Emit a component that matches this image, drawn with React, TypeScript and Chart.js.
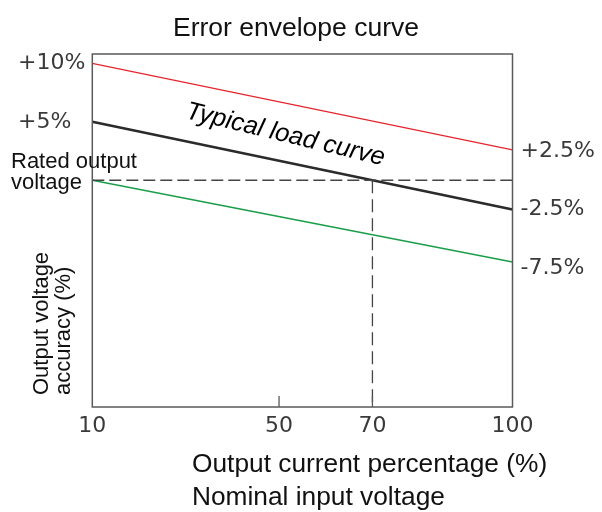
import React, { useEffect, useRef } from 'react';
import { Chart, registerables } from 'chart.js';

Chart.register(...registerables);

// ---- data ----
const currentPct = [10, 100];
const upperLimit = [10, 2.6];
const typicalLoad = [5, -2.5];
const lowerLimit = [0, -7];
const ratedLevel = 0;
const crossoverCurrent = 70;
const xRange = [10, 100];
const yRange = [-19.4, 10.8];
const xTickValues = [10, 50, 70, 100];
const leftTickValues = [10, 5];
const leftTickLabels = ['+10%', '+5%'];
const rightTickValues = [2.5, -2.5, -7.5];
const rightTickLabels = ['+2.5%', '-2.5%', '-7.5%'];
const curveLabel = 'Typical load curve';
const curveLabelAt = { x: 51.0, y: 3.3 };

const ARIAL = '"Liberation Sans", Arial, sans-serif';
const DEJAVU = '"DejaVu Sans", sans-serif';
const TICK_COLOR = '#3a3a3a';

const annotations = {
  id: 'annotations',
  afterDatasetsDraw(chart: any) {
    const { ctx, chartArea: a, scales } = chart;
    ctx.save();
    // frame
    ctx.strokeStyle = '#5a5a5a';
    ctx.lineWidth = 1.5;
    ctx.setLineDash([]);
    ctx.strokeRect(a.left, a.top, a.right - a.left, a.bottom - a.top);
    // inward tick marks
    ctx.lineWidth = 1.3;
    xTickValues.slice(1, -1).forEach((v) => {
      const px = scales.x.getPixelForValue(v);
      ctx.beginPath();
      ctx.moveTo(px, a.bottom);
      ctx.lineTo(px, a.bottom - 11);
      ctx.stroke();
    });

    ctx.fillStyle = '#111';
    // title
    ctx.font = `26.5px ${ARIAL}`;
    ctx.textAlign = 'center';
    ctx.textBaseline = 'alphabetic';
    ctx.fillText('Error envelope curve', 296, 36);

    // x title
    ctx.textAlign = 'left';
    ctx.font = `26.3px ${ARIAL}`;
    ctx.fillText('Output current percentage (%)', 192, 472);
    ctx.fillText('Nominal input voltage', 192, 505);

    // rated output voltage label
    const y0 = scales.y.getPixelForValue(ratedLevel);
    ctx.font = `22px ${ARIAL}`;
    ctx.fillText('Rated output', 11, y0 - 12);
    ctx.fillText('voltage', 11, y0 + 9);

    // y title (rotated)
    ctx.save();
    ctx.translate(0, 395);
    ctx.rotate(-Math.PI / 2);
    ctx.font = `22px ${ARIAL}`;
    ctx.textAlign = 'left';
    ctx.fillText('Output voltage', 0, 48);
    ctx.fillText('accuracy (%)', 0, 70);
    ctx.restore();

    // typical load curve label
    ctx.save();
    ctx.translate(scales.x.getPixelForValue(curveLabelAt.x), scales.y.getPixelForValue(curveLabelAt.y));
    ctx.rotate((13.5 * Math.PI) / 180);
    ctx.font = `italic 25.5px ${ARIAL}`;
    ctx.textAlign = 'center';
    ctx.fillStyle = '#000';
    ctx.fillText(curveLabel, 0, 0);
    ctx.restore();

    ctx.restore();
  },
};

export default function App() {
  const ref = useRef<HTMLCanvasElement | null>(null);

  useEffect(() => {
    if (!ref.current) return;
    const pts = (ys: number[]) => currentPct.map((x, i) => ({ x, y: ys[i] }));
    const chart = new Chart(ref.current, {
      type: 'line',
      data: {
        datasets: [
          {
            label: 'Rated',
            data: [
              { x: xRange[0], y: ratedLevel },
              { x: xRange[1], y: ratedLevel },
            ],
            borderColor: '#444',
            borderWidth: 1.3,
            borderDash: [12, 5],
            pointRadius: 0,
          },
          {
            label: 'Crossover',
            data: [
              { x: crossoverCurrent, y: ratedLevel },
              { x: crossoverCurrent, y: yRange[0] },
            ],
            borderColor: '#444',
            borderWidth: 1.3,
            borderDash: [13, 6],
            pointRadius: 0,
          },
          {
            label: 'Upper',
            data: pts(upperLimit),
            borderColor: '#e3262e',
            borderWidth: 1.3,
            pointRadius: 0,
          },
          {
            label: 'Typical',
            data: pts(typicalLoad),
            borderColor: '#2b2b2b',
            borderWidth: 2.6,
            pointRadius: 0,
          },
          {
            label: 'Lower',
            data: pts(lowerLimit),
            borderColor: '#1a9e4a',
            borderWidth: 1.6,
            pointRadius: 0,
          },
        ],
      },
      options: {
        animation: false,
        responsive: false,
        events: [],
        layout: { padding: { left: 18, top: 54, right: 0, bottom: 0 } },
        plugins: {
          legend: { display: false },
          tooltip: { enabled: false },
          title: { display: false },
        },
        scales: {
          x: {
            type: 'linear',
            min: xRange[0],
            max: xRange[1],
            grid: { display: false, drawTicks: false },
            border: { display: false },
            afterBuildTicks: (s: any) => {
              s.ticks = xTickValues.map((v) => ({ value: v }));
            },
            afterFit: (s: any) => {
              s.height = 105;
            },
            ticks: {
              padding: 6,
              maxRotation: 0,
              autoSkip: false,
              color: TICK_COLOR,
              font: { family: DEJAVU, size: 22 },
              callback: (v: any) => String(v),
            },
          },
          y: {
            type: 'linear',
            position: 'left',
            min: yRange[0],
            max: yRange[1],
            grid: { display: false, drawTicks: false },
            border: { display: false },
            afterBuildTicks: (s: any) => {
              s.ticks = leftTickValues.map((v) => ({ value: v }));
            },
            afterFit: (s: any) => {
              s.width = 74.3;
            },
            ticks: {
              crossAlign: 'far',
              autoSkip: false,
              color: TICK_COLOR,
              font: { family: DEJAVU, size: 22 },
              callback: (_v: any, i: number) => leftTickLabels[i],
            },
          },
          y2: {
            type: 'linear',
            position: 'right',
            min: yRange[0],
            max: yRange[1],
            grid: { display: false, drawTicks: false },
            border: { display: false },
            afterBuildTicks: (s: any) => {
              s.ticks = rightTickValues.map((v) => ({ value: v }));
            },
            afterFit: (s: any) => {
              s.width = 89.5;
            },
            ticks: {
              padding: 8,
              autoSkip: false,
              color: TICK_COLOR,
              font: { family: DEJAVU, size: 22 },
              callback: (_v: any, i: number) => rightTickLabels[i],
            },
          },
        },
      } as any,
      plugins: [annotations],
    });
    return () => chart.destroy();
  }, []);

  return (
    <div style={{ position: 'fixed', left: 0, top: 0, width: 602, height: 512, background: '#fff' }}>
      <canvas ref={ref} width={602} height={512} />
    </div>
  );
}
